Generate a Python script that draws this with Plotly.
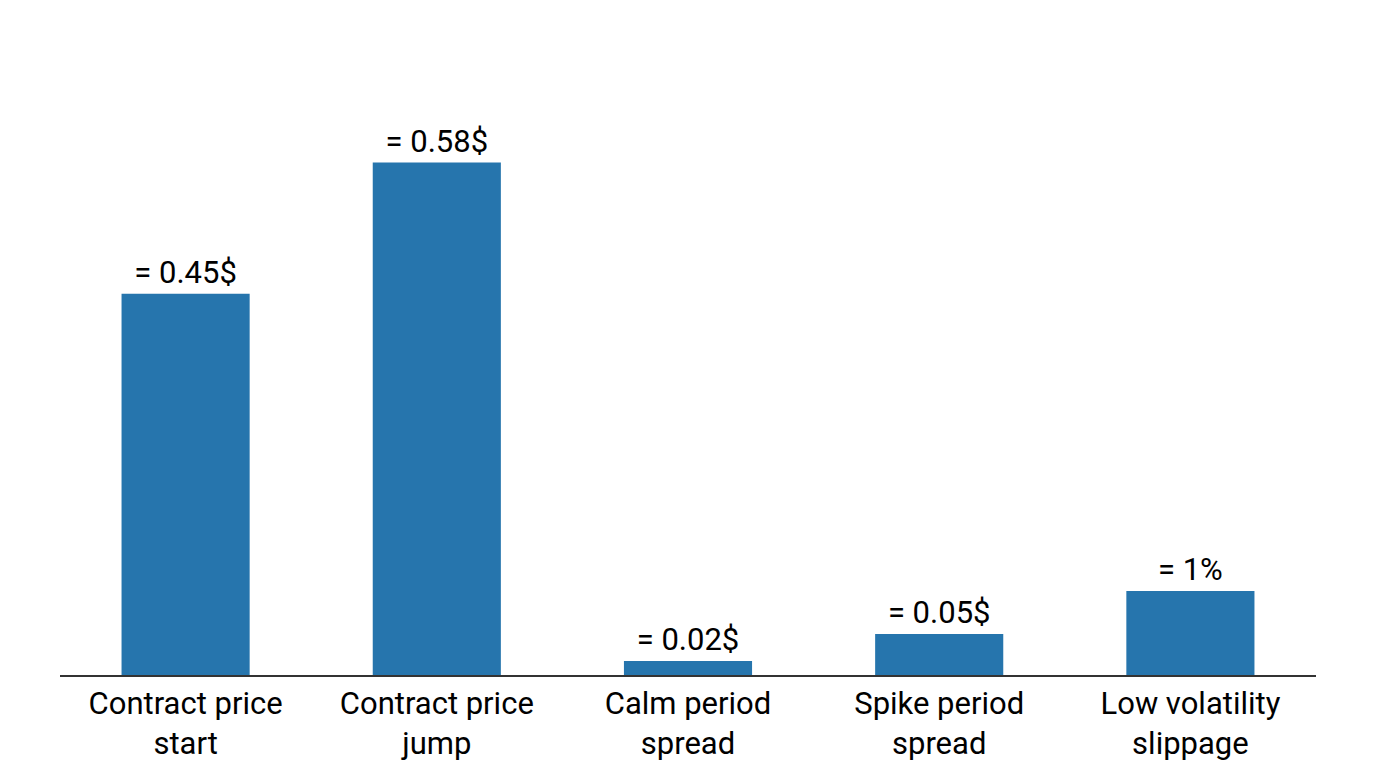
import plotly.graph_objects as go

categories = ["Contract price<br>start", "Contract price<br>jump", "Calm period<br>spread",
              "Spike period<br>spread", "Low volatility<br>slippage"]
bar_heights = [0.45, 0.605, 0.0165, 0.0484, 0.0992]
value_labels = ["= 0.45$", "= 0.58$", "= 0.02$", "= 0.05$", "= 1%"]

fig = go.Figure(go.Bar(
    x=categories, y=bar_heights,
    marker=dict(color="#2675ad", line=dict(width=0)),
    text=value_labels, textposition="outside",
    textfont=dict(family="Roboto", size=31, color="black"),
    cliponaxis=False,
))
fig.update_layout(
    width=1376, height=768,
    margin=dict(l=60, r=60, t=40, b=93),
    paper_bgcolor="white", plot_bgcolor="white",
    bargap=0.49, showlegend=False,
    font=dict(family="Roboto", size=31, color="black"),
    uniformtext=dict(minsize=31, mode="show"),
)
fig.update_xaxes(showline=True, linecolor="#333333", linewidth=1.5, ticks="",
                 automargin=False,
                 tickfont=dict(family="Roboto", size=31, color="black"), showgrid=False)
fig.update_yaxes(visible=False, range=[0, 0.7497], showgrid=False, zeroline=False,
                 automargin=False)
fig.write_html("out.html")
